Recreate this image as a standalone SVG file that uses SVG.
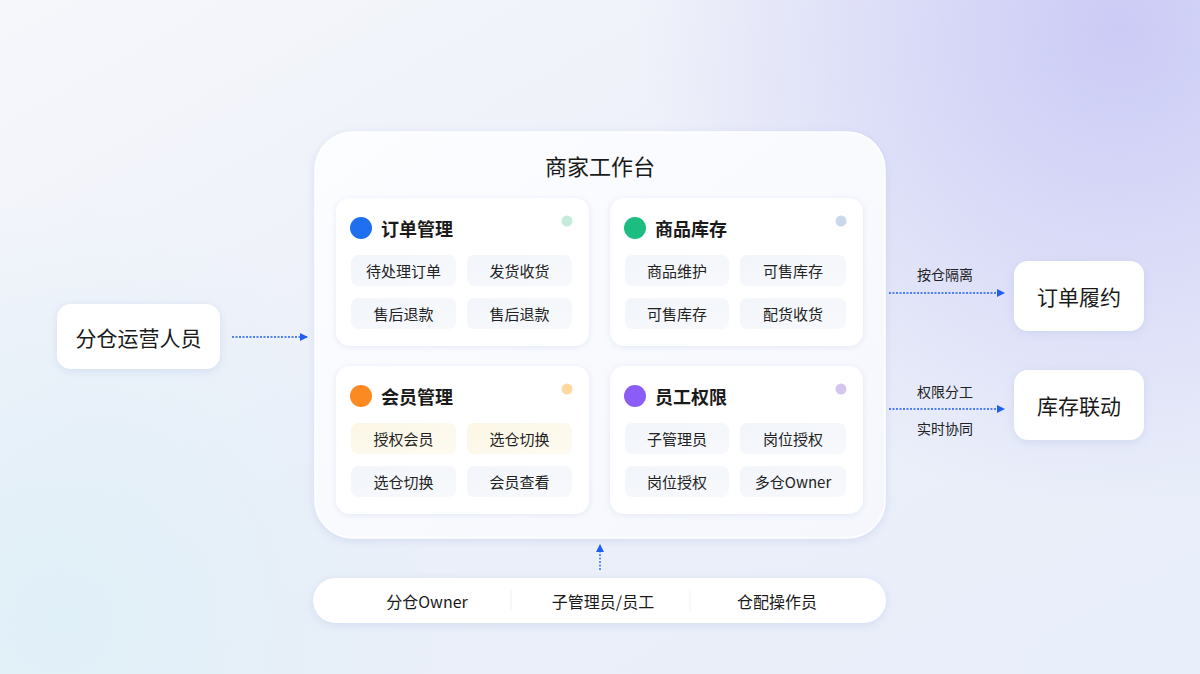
<svg xmlns="http://www.w3.org/2000/svg" width="1200" height="674" viewBox="0 0 1200 674">
<defs>
<linearGradient id="bg" x1="0" y1="0" x2="1" y2="1">
<stop offset="0" stop-color="#f5f7fb"/>
<stop offset="0.5" stop-color="#eceff9"/>
<stop offset="1" stop-color="#e8eefa"/>
</linearGradient>
<radialGradient id="tr" cx="1120" cy="30" r="480" gradientUnits="userSpaceOnUse">
<stop offset="0" stop-color="#cbcbf6"/>
<stop offset="1" stop-color="#cbcbf6" stop-opacity="0"/>
</radialGradient>
<radialGradient id="bl" cx="60" cy="620" r="420" gradientUnits="userSpaceOnUse">
<stop offset="0" stop-color="#e0f0f8"/>
<stop offset="1" stop-color="#e0f0f8" stop-opacity="0"/>
</radialGradient>
<linearGradient id="panel" x1="0" y1="0" x2="1" y2="1">
<stop offset="0" stop-color="#fcfdff"/>
<stop offset="1" stop-color="#f5f7fd"/>
</linearGradient>
<linearGradient id="chip" x1="0" y1="0" x2="1" y2="1">
<stop offset="0" stop-color="#f2f5fa"/>
<stop offset="1" stop-color="#f7f9fc"/>
</linearGradient>
<linearGradient id="chipY" x1="0" y1="0" x2="1" y2="1">
<stop offset="0" stop-color="#fcf7e6"/>
<stop offset="1" stop-color="#fdfaf0"/>
</linearGradient>
<filter id="sh" x="-20%" y="-20%" width="140%" height="140%">
<feDropShadow dx="0" dy="2" stdDeviation="5" flood-color="#aab8e0" flood-opacity="0.35"/>
</filter>
<filter id="shs" x="-20%" y="-20%" width="140%" height="140%">
<feDropShadow dx="0" dy="1" stdDeviation="3" flood-color="#b8c4e4" flood-opacity="0.35"/>
</filter>
<marker id="ah" markerWidth="8" markerHeight="8" refX="7" refY="4" orient="auto" markerUnits="userSpaceOnUse">
<path d="M0,0 L8,4 L0,8 Z" fill="#1f5ef0"/>
</marker>
</defs>
<style>
text{font-family:"Noto Sans CJK SC","Noto Sans",sans-serif;fill:#1a1a1a;}
.ttl{font-size:22px;font-weight:400;text-anchor:middle;dominant-baseline:central;}
.ct{font-size:18px;font-weight:700;dominant-baseline:central;}
.chipt{font-size:15px;text-anchor:middle;dominant-baseline:central;fill:#222;}
.nt{font-size:21px;font-weight:400;text-anchor:middle;dominant-baseline:central;}
.lb{font-size:14px;text-anchor:middle;dominant-baseline:central;fill:#222;}
.bt{font-size:16px;font-weight:400;text-anchor:middle;dominant-baseline:central;}
.card{fill:#fff;filter:url(#shs);}
.node{fill:#fff;filter:url(#sh);}
.c{fill:url(#chip);}
.cy{fill:url(#chipY);}
.conn{stroke:#1f5ef0;stroke-width:1.3;stroke-dasharray:2 1.5;fill:none;}
</style>
<rect width="1200" height="674" fill="url(#bg)"/>
<rect width="1200" height="674" fill="url(#tr)"/>
<rect width="1200" height="674" fill="url(#bl)"/>

<g id="workbench">
<rect x="315" y="132" width="570" height="406" rx="38" fill="url(#panel)" stroke="#ffffff" stroke-width="1.5" filter="url(#sh)"/>
<text class="ttl" x="600" y="165">商家工作台</text>
</g>

<g id="card-order">
<rect class="card" x="336" y="198" width="253" height="148" rx="14"/>
<circle cx="361" cy="228" r="11" fill="#1f6ff0"/>
<text class="ct" x="381" y="228">订单管理</text>
<circle cx="567" cy="221" r="5.5" fill="#c5ebdc"/>
<rect class="c" x="351" y="255" width="105" height="31" rx="7"/>
<text class="chipt" x="403.5" y="270.5">待处理订单</text>
<rect class="c" x="467" y="255" width="105" height="31" rx="7"/>
<text class="chipt" x="519.5" y="270.5">发货收货</text>
<rect class="c" x="351" y="298" width="105" height="31" rx="7"/>
<text class="chipt" x="403.5" y="313.5">售后退款</text>
<rect class="c" x="467" y="298" width="105" height="31" rx="7"/>
<text class="chipt" x="519.5" y="313.5">售后退款</text>
</g>

<g id="card-goods">
<rect class="card" x="610" y="198" width="253" height="148" rx="14"/>
<circle cx="635" cy="228" r="11" fill="#1dbd82"/>
<text class="ct" x="655" y="228">商品库存</text>
<circle cx="841" cy="221" r="5.5" fill="#cbd8ea"/>
<rect class="c" x="625" y="255" width="104" height="31" rx="7"/>
<text class="chipt" x="677" y="270.5">商品维护</text>
<rect class="c" x="740" y="255" width="106" height="31" rx="7"/>
<text class="chipt" x="793" y="270.5">可售库存</text>
<rect class="c" x="625" y="298" width="104" height="31" rx="7"/>
<text class="chipt" x="677" y="313.5">可售库存</text>
<rect class="c" x="740" y="298" width="106" height="31" rx="7"/>
<text class="chipt" x="793" y="313.5">配货收货</text>
</g>

<g id="card-member">
<rect class="card" x="336" y="366" width="253" height="148" rx="14"/>
<circle cx="361" cy="396" r="11" fill="#fb8a23"/>
<text class="ct" x="381" y="396">会员管理</text>
<circle cx="567" cy="389" r="5.5" fill="#fdd9a0"/>
<rect class="cy" x="351" y="423" width="105" height="31" rx="7"/>
<text class="chipt" x="403.5" y="438.5">授权会员</text>
<rect class="cy" x="467" y="423" width="105" height="31" rx="7"/>
<text class="chipt" x="519.5" y="438.5">选仓切换</text>
<rect class="c" x="351" y="466" width="105" height="31" rx="7"/>
<text class="chipt" x="403.5" y="481.5">选仓切换</text>
<rect class="c" x="467" y="466" width="105" height="31" rx="7"/>
<text class="chipt" x="519.5" y="481.5">会员查看</text>
</g>

<g id="card-staff">
<rect class="card" x="610" y="366" width="253" height="148" rx="14"/>
<circle cx="635" cy="396" r="11" fill="#8b5cf6"/>
<text class="ct" x="655" y="396">员工权限</text>
<circle cx="841" cy="389" r="5.5" fill="#d3c5f0"/>
<rect class="c" x="625" y="423" width="104" height="31" rx="7"/>
<text class="chipt" x="677" y="438.5">子管理员</text>
<rect class="c" x="740" y="423" width="106" height="31" rx="7"/>
<text class="chipt" x="793" y="438.5">岗位授权</text>
<rect class="c" x="625" y="466" width="104" height="31" rx="7"/>
<text class="chipt" x="677" y="481.5">岗位授权</text>
<rect class="c" x="740" y="466" width="106" height="31" rx="7"/>
<text class="chipt" x="793" y="481.5">多仓Owner</text>
</g>

<g id="node-operator">
<rect class="node" x="57" y="304" width="163" height="65" rx="14"/>
<text class="nt" x="138.5" y="336.5">分仓运营人员</text>
</g>

<g id="node-fulfil">
<rect class="node" x="1014" y="261" width="130" height="70" rx="14"/>
<text class="nt" x="1079" y="296">订单履约</text>
</g>

<g id="node-stock">
<rect class="node" x="1014" y="370" width="130" height="70" rx="14"/>
<text class="nt" x="1079" y="405">库存联动</text>
</g>

<g id="roles-bar">
<rect class="node" x="313" y="578" width="573" height="45" rx="22.5"/>
<line x1="511" y1="590" x2="511" y2="611" stroke="#eef1f7" stroke-width="1"/>
<line x1="690" y1="590" x2="690" y2="611" stroke="#eef1f7" stroke-width="1"/>
<text class="bt" x="427" y="600.5">分仓Owner</text>
<text class="bt" x="603" y="600.5">子管理员/员工</text>
<text class="bt" x="777" y="600.5">仓配操作员</text>
</g>

<g id="connectors">
<line class="conn" x1="232" y1="337" x2="307" y2="337" marker-end="url(#ah)"/>
<line class="conn" x1="889" y1="293" x2="1004" y2="293" marker-end="url(#ah)"/>
<text class="lb" x="945" y="274">按仓隔离</text>
<line class="conn" x1="889" y1="409" x2="1004" y2="409" marker-end="url(#ah)"/>
<text class="lb" x="945" y="391">权限分工</text>
<text class="lb" x="945" y="428">实时协同</text>
<line class="conn" x1="600" y1="570" x2="600" y2="545" marker-end="url(#ah)"/>
</g>
</svg>
